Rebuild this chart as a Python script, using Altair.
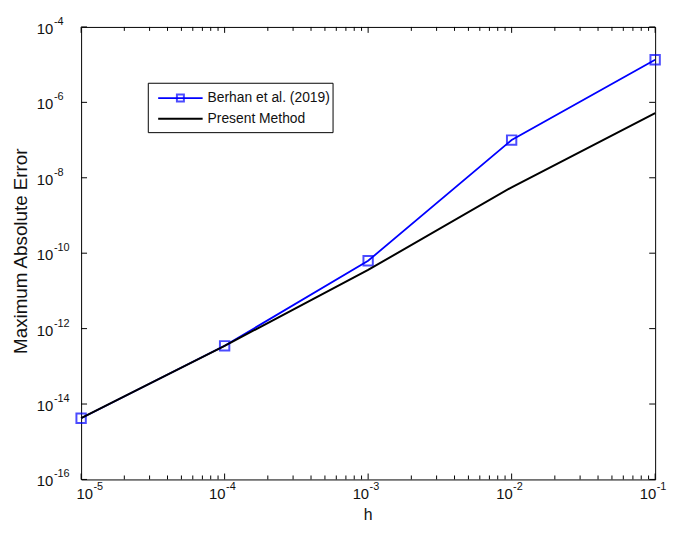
import altair as alt
import pandas as pd

# ---- data ----
h_values = [1e-5, 1e-4, 1e-3, 1e-2, 1e-1]
berhan_err = [4.2e-15, 3.5e-13, 6.3e-11, 1.0e-7, 1.35e-5]
present_err = [4.2e-15, 3.5e-13, 3.6e-11, 5.6e-9, 5.2e-7]

x_major = [1e-5, 1e-4, 1e-3, 1e-2, 1e-1]
x_exp = ["-5", "-4", "-3", "-2", "-1"]
x_minor = [k * 10.0 ** d for d in (-5, -4, -3, -2) for k in range(2, 10)]
y_major = [1e-16, 1e-14, 1e-12, 1e-10, 1e-8, 1e-6, 1e-4]
y_exp = ["-16", "-14", "-12", "-10", "-8", "-6", "-4"]

legend_labels = ["Berhan et al. (2019)", "Present Method"]
x_title = "h"
y_title = "Maximum Absolute Error"

W, H = 581, 458
FONT = "Liberation Sans"
TXT = "#111111"

df_b = pd.DataFrame({"h": h_values, "err": berhan_err, "series": legend_labels[0]})
df_p = pd.DataFrame({"h": h_values, "err": present_err, "series": legend_labels[1]})

xs = alt.Scale(type="log", domain=[1e-5, 1e-1], nice=False)
ys = alt.Scale(type="log", domain=[1e-16, 1e-4], nice=False)

line_b = alt.Chart(df_b).mark_line(color="#0000ff", strokeWidth=1.8).encode(
    x=alt.X("h:Q", scale=xs, axis=None),
    y=alt.Y("err:Q", scale=ys, axis=None),
)
pts_b = alt.Chart(df_b).mark_point(shape="square", filled=False, size=90,
                                    strokeWidth=2, color="#0000ff").encode(
    x=alt.X("h:Q", scale=xs), y=alt.Y("err:Q", scale=ys))
line_p = alt.Chart(df_p).mark_line(color="black", strokeWidth=2).encode(
    x=alt.X("h:Q", scale=xs), y=alt.Y("err:Q", scale=ys))

# inward ticks (MATLAB style, mirrored on all sides)
def xticks(vals, length):
    d = pd.DataFrame({"v": vals})
    bot = alt.Chart(d).mark_rule(color="black", strokeWidth=1).encode(
        x=alt.X("v:Q", scale=xs), y=alt.value(H), y2=alt.value(H - length))
    top = alt.Chart(d).mark_rule(color="black", strokeWidth=1).encode(
        x=alt.X("v:Q", scale=xs), y=alt.value(0), y2=alt.value(length))
    return [bot, top]

def yticks(vals, length):
    d = pd.DataFrame({"v": vals})
    left = alt.Chart(d).mark_rule(color="black", strokeWidth=1).encode(
        y=alt.Y("v:Q", scale=ys), x=alt.value(0), x2=alt.value(length))
    right = alt.Chart(d).mark_rule(color="black", strokeWidth=1).encode(
        y=alt.Y("v:Q", scale=ys), x=alt.value(W - length), x2=alt.value(W))
    return [left, right]

tick_layers = xticks(x_major, 6) + xticks(x_minor, 4) + yticks(y_major, 6)

# tick labels: "10" with raised exponent
xl = pd.DataFrame({"v": x_major, "e": x_exp, "b": "10"})
yl = pd.DataFrame({"v": y_major, "e": y_exp, "b": "10"})
xl_first, xl_rest = xl.iloc[[0]], xl.iloc[1:]

def x_label(d, dx):
    base = alt.Chart(d).mark_text(align="right", baseline="middle", font=FONT,
                                  fontSize=15, color=TXT, dx=dx).encode(
        x=alt.X("v:Q", scale=xs), y=alt.value(H + 15), text="b:N")
    sup = alt.Chart(d).mark_text(align="left", baseline="middle", font=FONT,
                                 fontSize=11, color=TXT, dx=dx + 0.5).encode(
        x=alt.X("v:Q", scale=xs), y=alt.value(H + 8), text="e:N")
    return [base, sup]

x_labels = x_label(xl_first, 12) + x_label(xl_rest, 1)

y_base = alt.Chart(yl).mark_text(align="left", baseline="middle", font=FONT,
                                 fontSize=15, color=TXT, dy=2).encode(
    y=alt.Y("v:Q", scale=ys), x=alt.value(-45), text="b:N")
y_sup = alt.Chart(yl).mark_text(align="left", baseline="middle", font=FONT,
                                fontSize=11, color=TXT, dy=-5).encode(
    y=alt.Y("v:Q", scale=ys), x=alt.value(-27.5), text="e:N")

titles = pd.DataFrame({"t": [x_title, y_title]})
x_tt = alt.Chart(titles.iloc[[0]]).mark_text(
    align="center", baseline="middle", font=FONT, fontSize=16, color=TXT).encode(
    x=alt.value(W / 2), y=alt.value(H + 36), text="t:N")
y_tt = alt.Chart(titles.iloc[[1]]).mark_text(
    align="center", baseline="middle", font=FONT, fontSize=19, color=TXT,
    angle=270).encode(
    x=alt.value(-61), y=alt.value(H / 2 - 2), text="t:N")

# manual legend (MATLAB style)
LX0, LX1, LY0, LY1 = 68, 255, 57, 107
row_y = [72, 93]
leg_df = pd.DataFrame({"label": legend_labels, "row": [0, 1]})
leg_box = alt.Chart(leg_df.iloc[[0]]).mark_rect(fill="white", stroke="black", strokeWidth=1).encode(
    x=alt.value(LX0), x2=alt.value(LX1), y=alt.value(LY0), y2=alt.value(LY1))
leg_line_b = alt.Chart(leg_df.iloc[[0]]).mark_rule(color="#0000ff", strokeWidth=1.8).encode(
    x=alt.value(78), x2=alt.value(123), y=alt.value(row_y[0]))
leg_pt_b = alt.Chart(leg_df.iloc[[0]]).mark_point(shape="square", filled=False, size=50,
                                                  strokeWidth=2, color="#0000ff").encode(
    x=alt.value(100.5), y=alt.value(row_y[0]))
leg_line_p = alt.Chart(leg_df.iloc[[1]]).mark_rule(color="black", strokeWidth=2).encode(
    x=alt.value(78), x2=alt.value(123), y=alt.value(row_y[1]))
leg_text_b = alt.Chart(leg_df.iloc[[0]]).mark_text(
    align="left", baseline="middle", font=FONT, fontSize=14, color=TXT).encode(
    x=alt.value(128), y=alt.value(row_y[0]), text="label:N")
leg_text_p = alt.Chart(leg_df.iloc[[1]]).mark_text(
    align="left", baseline="middle", font=FONT, fontSize=14, color=TXT).encode(
    x=alt.value(128), y=alt.value(row_y[1]), text="label:N")

chart = alt.layer(
    line_b, pts_b, line_p, *tick_layers,
    *x_labels, y_base, y_sup, x_tt, y_tt,
    leg_box, leg_line_b, leg_pt_b, leg_line_p, leg_text_b, leg_text_p,
).properties(
    width=W, height=H,
    autosize=alt.AutoSizeParams(type="none"),
    padding={"left": 74, "top": 16, "right": 12, "bottom": 48},
    background="white",
).configure_view(stroke="black", strokeWidth=1)

chart.save("out.html", embed_options={"renderer": "svg", "actions": False})
